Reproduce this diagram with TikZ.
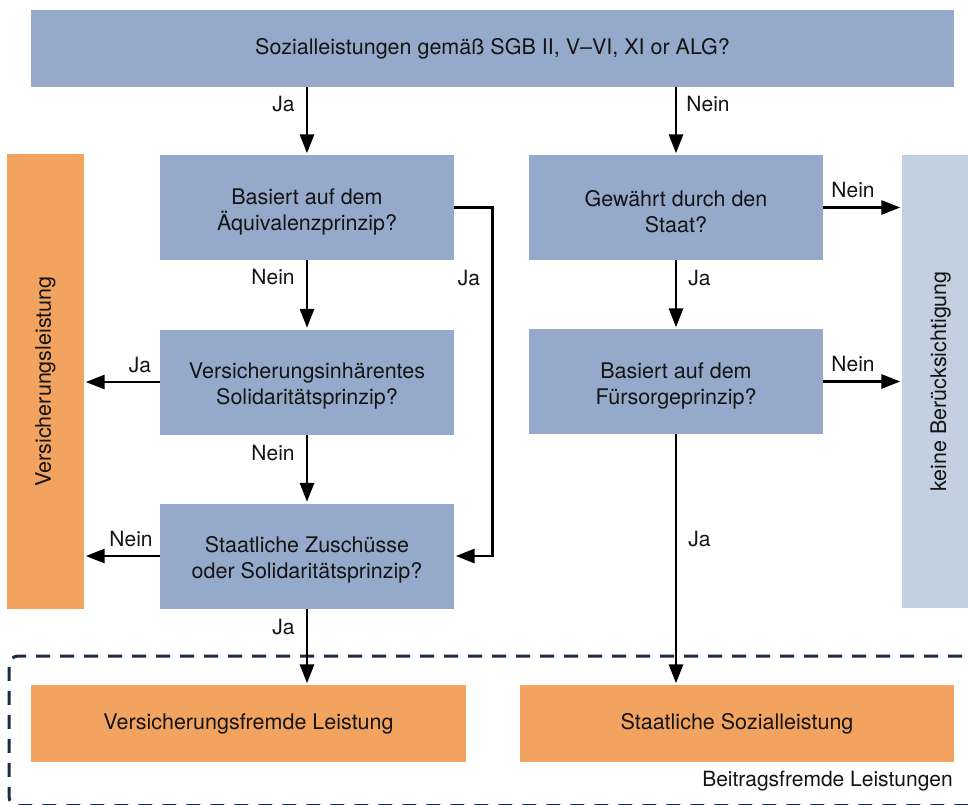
\documentclass[tikz,border=0pt]{standalone}
\usepackage{fontspec}
\setmainfont{TeX Gyre Heros}
\usetikzlibrary{arrows.meta}
\definecolor{qblue}{HTML}{95AACB}
\definecolor{qlight}{HTML}{C3D0E2}
\definecolor{qorange}{HTML}{F2A35F}
\definecolor{qnavy}{HTML}{1B2B4A}
\definecolor{qtext}{HTML}{141414}
\newcommand{\qtwo}[2]{\raisebox{-4pt}[\height][\depth]{\parbox{290pt}{\centering #1\\#2}}}
\begin{document}
\begin{tikzpicture}[x=1pt,y=-1pt,
  txt/.style={font=\fontsize{21.5}{26}\selectfont, text=qtext, align=center},
  bluebox/.style={txt, fill=qblue, inner sep=0pt, minimum width=294pt, minimum height=105pt},
  orbox/.style={txt, fill=qorange, inner sep=0pt},
  lbl/.style={font=\fontsize{21}{24}\selectfont, text=qtext, inner sep=0pt},
  arr/.style={line width=2.9pt, -{Triangle[length=19pt,width=14pt]}, shorten >=1.5pt},
  dashbox/.style={draw=qnavy, line width=3pt, dash pattern=on 14pt off 10pt, rounded corners=9pt}
]
\useasboundingbox (0,0) rectangle (968,804);
% dashed group
\draw[dashbox] (1010,656) -- (9,656) -- (9,805.5) -- (1010,805.5);
% nodes
\node[bluebox, minimum width=923pt, minimum height=77pt] (top) at (492.5,48.5) {Sozialleistungen gemäß SGB II, V--VI, XI or ALG?};
\node[orbox, minimum width=77pt, minimum height=455pt] (vl) at (45.5,381.5) {};
\node[txt, rotate=90] (vltxt) at (45.5,381.5) {Versicherungsleistung};
\node[txt, fill=qlight, inner sep=0pt, minimum width=77pt, minimum height=453pt] (kb) at (940.5,381.5) {};
\node[txt, rotate=90] (kbtxt) at (940.5,381.5) {keine Berücksichtigung};
\node[bluebox] (b1) at (307,207.5) {\qtwo{Basiert auf dem}{Äquivalenzprinzip?}};
\node[bluebox] (b2) at (307,382) {\qtwo{Versicherungsinhärentes}{Solidaritätsprinzip?}};
\node[bluebox] (b3) at (307,556) {\qtwo{Staatliche Zuschüsse}{oder Solidaritätsprinzip?}};
\node[bluebox] (r1) at (676,207.5) {\qtwo{Gewährt durch den}{Staat?}};
\node[bluebox] (r2) at (676,381.5) {\qtwo{Basiert auf dem}{Fürsorgeprinzip?}};
\node[orbox, minimum width=435pt, minimum height=77pt] (vf) at (248.5,723.5) {Versicherungsfremde Leistung};
\node[orbox, minimum width=434pt, minimum height=77pt] (ss) at (737,723.5) {Staatliche Sozialleistung};
\node[lbl, anchor=east] (bl) at (953,781) {Beitragsfremde Leistungen};
% connectors
\draw[arr] (top.south -| b1.north) -- (b1.north);
\draw[arr] (top.south -| r1.north) -- (r1.north);
\draw[arr] (b1.south) -- (b2.north);
\draw[arr] (b2.south) -- (b3.north);
\draw[arr] (b3.south) -- (vf.north -| b3.south);
\draw[arr] (b1.east) -- ++(38,0) |- (b3.east);
\draw[arr] (b2.west) -- (vl.east |- b2.west);
\draw[arr] (b3.west) -- (vl.east |- b3.west);
\draw[arr] (r1.south) -- (r2.north);
\draw[arr] (r1.east) -- (kb.west |- r1.east);
\draw[arr] (r2.east) -- (kb.west |- r2.east);
\draw[arr] (r2.south) -- (ss.north -| r2.south);
% labels
\node[lbl] (l1) at (283.5,104) {Ja};
\node[lbl] (l2) at (708,104) {Nein};
\node[lbl] (l3) at (273,277) {Nein};
\node[lbl] (l4) at (469,278) {Ja};
\node[lbl] (l5) at (699.5,278) {Ja};
\node[lbl] (l6) at (853,190) {Nein};
\node[lbl] (l7) at (140,365) {Ja};
\node[lbl] (l8) at (853,364) {Nein};
\node[lbl] (l9) at (273,453) {Nein};
\node[lbl] (l10) at (131,539) {Nein};
\node[lbl] (l11) at (699.5,539) {Ja};
\node[lbl] (l12) at (283.5,627) {Ja};
\end{tikzpicture}
\end{document}
